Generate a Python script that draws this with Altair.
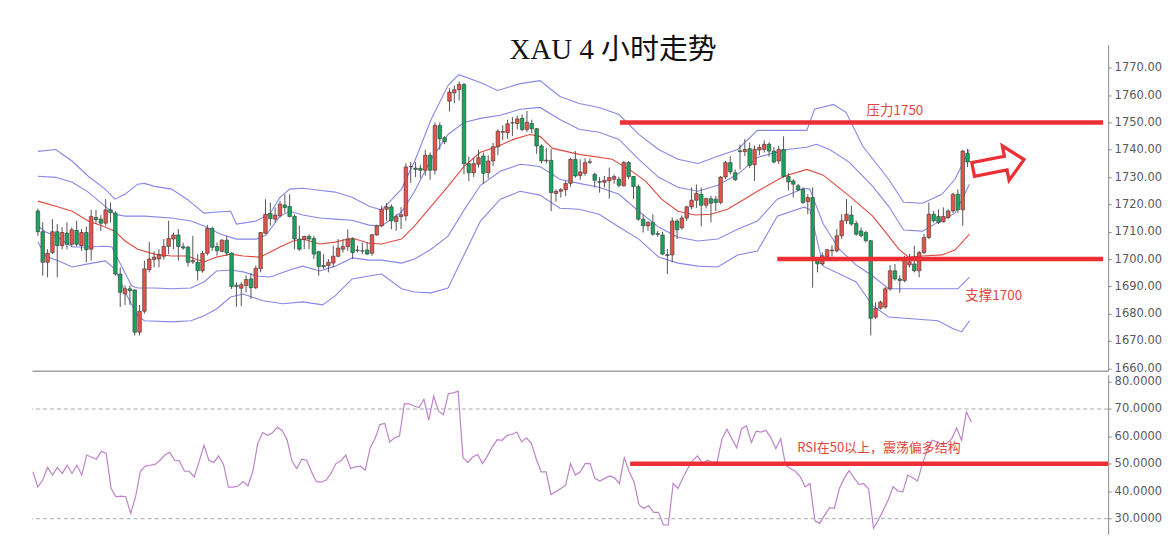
import altair as alt
import pandas as pd
import numpy as np

TITLE = "XAU 4 小时走势"

OPEN = [1717.6, 1710.0, 1698.8, 1702.4, 1710.0, 1704.9, 1709.5, 1705.4, 1710.5, 1704.9,
        1709.7, 1703.6, 1715.2, 1714.6, 1713.1, 1718.0, 1716.8, 1694.5, 1687.2, 1689.1,
        1688.7, 1673.2, 1680.9, 1696.1, 1699.8, 1700.0, 1701.0, 1704.6, 1707.3, 1708.8,
        1704.5, 1704.3, 1699.0, 1698.8, 1695.7, 1702.1, 1711.2, 1704.6, 1702.8, 1706.9,
        1702.2, 1690.4, 1689.3, 1690.3, 1692.7, 1689.5, 1696.4, 1709.4, 1716.7, 1714.6,
        1715.8, 1719.8, 1719.2, 1715.6, 1707.3, 1707.1, 1708.3, 1707.5, 1702.7, 1697.6,
        1697.6, 1698.5, 1701.0, 1703.6, 1704.6, 1707.3, 1703.3, 1703.0, 1703.3, 1702.1,
        1708.8, 1712.2, 1718.2, 1719.1, 1713.7, 1715.5, 1715.8, 1733.8, 1733.3, 1733.2,
        1732.5, 1738.0, 1732.5, 1748.9, 1744.4, 1757.8, 1760.8, 1762.0, 1763.9, 1734.9,
        1731.6, 1734.7, 1737.7, 1731.6, 1735.9, 1741.1, 1746.4, 1746.2, 1749.8, 1749.6,
        1751.5, 1747.4, 1749.6, 1747.7, 1741.4, 1735.9, 1736.1, 1724.0, 1724.8, 1725.4,
        1727.7, 1736.5, 1730.6, 1731.4, 1735.4, 1731.0, 1728.4, 1728.1, 1728.6, 1729.2,
        1729.2, 1726.8, 1735.3, 1730.2, 1726.5, 1714.6, 1712.2, 1713.4, 1709.3, 1708.8,
        1701.6, 1701.5, 1713.9, 1711.4, 1715.0, 1719.1, 1721.5, 1723.7, 1719.7, 1722.1,
        1721.9, 1720.7, 1730.0, 1735.3, 1731.6, 1739.6, 1739.3, 1740.4, 1734.5, 1739.9,
        1740.1, 1742.0, 1739.5, 1735.9, 1740.1, 1730.2, 1728.6, 1726.8, 1725.5, 1721.0,
        1722.5, 1699.4, 1698.2, 1700.9, 1703.0, 1703.0, 1708.5, 1714.0, 1716.1, 1713.0,
        1710.3, 1709.7, 1706.7, 1678.7, 1682.0, 1682.4, 1689.1, 1695.7, 1692.7, 1692.1,
        1697.8, 1698.2, 1695.7, 1702.4, 1707.9, 1716.4, 1715.6, 1713.6, 1715.2, 1717.6,
        1723.7, 1718.0, 1738.7]

HIGH = [1718.5, 1713.5, 1703.6, 1714.6, 1712.8, 1711.6, 1713.4, 1711.6, 1714.0, 1711.0,
        1711.9, 1718.0, 1718.0, 1716.1, 1721.9, 1720.7, 1717.5, 1696.9, 1690.3, 1690.3,
        1688.9, 1683.2, 1699.4, 1706.3, 1702.8, 1703.6, 1707.3, 1714.0, 1709.7, 1711.0,
        1706.0, 1704.9, 1708.5, 1701.8, 1703.0, 1712.5, 1711.8, 1706.1, 1707.3, 1708.5,
        1702.4, 1691.5, 1691.5, 1694.0, 1694.9, 1697.6, 1709.9, 1721.9, 1720.7, 1718.9,
        1721.3, 1723.7, 1723.7, 1716.4, 1712.2, 1708.5, 1709.1, 1708.5, 1703.0, 1701.8,
        1700.0, 1704.9, 1707.3, 1707.3, 1710.9, 1707.9, 1704.9, 1706.1, 1706.1, 1709.1,
        1712.6, 1719.5, 1720.5, 1720.0, 1716.4, 1719.0, 1735.0, 1735.5, 1735.5, 1734.5,
        1740.0, 1739.0, 1750.0, 1750.0, 1745.0, 1762.5, 1763.5, 1765.0, 1764.5, 1737.5,
        1737.0, 1740.0, 1739.0, 1738.0, 1742.5, 1747.5, 1749.0, 1751.0, 1752.0, 1752.5,
        1752.9, 1754.2, 1751.0, 1748.0, 1742.0, 1740.6, 1740.3, 1725.5, 1726.0, 1728.5,
        1737.0, 1739.5, 1736.5, 1736.9, 1736.8, 1731.6, 1730.0, 1730.4, 1733.5, 1731.0,
        1730.2, 1735.9, 1735.9, 1730.4, 1727.3, 1716.4, 1714.0, 1716.4, 1710.3, 1710.0,
        1703.7, 1715.2, 1714.6, 1716.0, 1719.5, 1726.2, 1727.3, 1726.2, 1722.5, 1723.1,
        1723.1, 1730.4, 1735.9, 1737.7, 1732.8, 1741.9, 1743.9, 1742.7, 1741.5, 1742.0,
        1743.5, 1742.8, 1741.0, 1741.5, 1744.9, 1731.5, 1729.2, 1727.5, 1726.2, 1723.7,
        1726.2, 1700.0, 1702.4, 1703.6, 1705.0, 1711.0, 1716.4, 1721.9, 1719.5, 1714.0,
        1711.6, 1710.3, 1706.9, 1684.2, 1684.8, 1689.7, 1697.8, 1698.2, 1694.0, 1701.2,
        1701.8, 1704.9, 1703.0, 1709.1, 1720.7, 1717.6, 1718.2, 1718.9, 1718.2, 1724.3,
        1725.5, 1740.0, 1740.3]

LOW = [1708.5, 1693.9, 1693.3, 1701.8, 1693.3, 1703.6, 1703.6, 1704.6, 1704.6, 1703.0,
       1698.8, 1699.4, 1712.8, 1710.3, 1712.2, 1713.4, 1693.9, 1682.4, 1683.2, 1683.2,
       1672.0, 1672.0, 1680.0, 1695.1, 1697.0, 1697.0, 1699.8, 1701.8, 1703.6, 1699.4,
       1703.4, 1697.2, 1698.2, 1692.1, 1695.0, 1701.3, 1703.0, 1701.2, 1702.4, 1701.2,
       1689.0, 1682.5, 1682.7, 1687.8, 1685.4, 1689.0, 1695.1, 1709.1, 1712.2, 1713.4,
       1715.2, 1717.0, 1715.2, 1703.6, 1703.0, 1703.6, 1703.6, 1700.0, 1693.9, 1696.4,
       1695.1, 1697.0, 1700.6, 1702.4, 1703.0, 1700.0, 1702.4, 1701.8, 1701.5, 1701.2,
       1708.5, 1711.6, 1714.0, 1710.9, 1710.3, 1711.0, 1714.0, 1727.9, 1730.0, 1729.5,
       1730.5, 1729.0, 1731.0, 1740.0, 1742.0, 1754.0, 1757.0, 1758.0, 1731.0, 1728.5,
       1730.0, 1733.5, 1727.5, 1729.5, 1734.0, 1738.0, 1743.5, 1744.0, 1745.0, 1747.5,
       1746.8, 1746.5, 1746.0, 1738.5, 1735.0, 1735.0, 1717.5, 1721.0, 1722.5, 1723.0,
       1726.5, 1729.8, 1729.0, 1730.5, 1734.7, 1726.2, 1724.3, 1726.2, 1722.1, 1727.5,
       1726.2, 1726.5, 1729.2, 1721.9, 1714.0, 1709.7, 1710.3, 1708.5, 1708.1, 1701.5,
       1694.5, 1698.8, 1707.3, 1710.8, 1714.0, 1718.2, 1718.7, 1712.0, 1718.5, 1713.4,
       1717.6, 1720.0, 1729.2, 1730.9, 1728.6, 1732.8, 1737.7, 1733.3, 1728.6, 1738.0,
       1739.0, 1737.5, 1735.0, 1734.8, 1729.8, 1725.1, 1722.5, 1724.9, 1720.1, 1716.4,
       1689.5, 1695.1, 1697.6, 1699.4, 1701.0, 1702.4, 1707.3, 1712.8, 1712.2, 1708.5,
       1707.9, 1706.1, 1672.0, 1678.1, 1681.5, 1681.8, 1688.4, 1692.1, 1687.6, 1691.5,
       1696.9, 1695.1, 1693.3, 1701.8, 1707.3, 1713.4, 1712.8, 1713.4, 1714.6, 1716.9,
       1716.9, 1712.2, 1733.7]

CLOSE = [1710.0, 1698.8, 1702.1, 1710.0, 1704.9, 1709.7, 1705.4, 1710.7, 1705.4, 1709.7,
         1703.4, 1715.6, 1714.4, 1713.1, 1718.0, 1717.0, 1694.5, 1687.8, 1689.1, 1688.4,
         1673.2, 1680.9, 1696.4, 1700.0, 1700.7, 1701.5, 1704.6, 1707.5, 1708.8, 1704.6,
         1704.0, 1698.8, 1699.5, 1695.7, 1702.1, 1711.2, 1704.3, 1703.0, 1706.9, 1702.2,
         1689.9, 1689.9, 1690.6, 1692.5, 1689.5, 1696.6, 1709.7, 1716.4, 1714.8, 1716.1,
         1720.1, 1718.9, 1715.6, 1707.3, 1703.6, 1708.3, 1707.3, 1701.8, 1697.3, 1697.2,
         1698.8, 1701.0, 1704.0, 1704.6, 1707.3, 1702.4, 1703.1, 1702.9, 1701.8, 1708.9,
         1712.2, 1718.2, 1719.1, 1714.0, 1715.5, 1716.2, 1733.7, 1733.9, 1732.8, 1732.5,
         1738.0, 1732.5, 1748.9, 1744.0, 1742.9, 1761.1, 1762.0, 1763.9, 1734.9, 1731.6,
         1734.9, 1737.1, 1731.4, 1735.9, 1741.1, 1746.8, 1746.7, 1749.5, 1749.9, 1751.3,
         1747.4, 1750.1, 1747.7, 1741.4, 1735.9, 1736.2, 1724.3, 1724.8, 1725.4, 1727.7,
         1736.5, 1730.4, 1731.9, 1735.3, 1735.6, 1728.8, 1728.1, 1728.8, 1729.8, 1730.2,
         1727.0, 1735.3, 1730.2, 1726.5, 1714.6, 1712.2, 1713.4, 1709.1, 1709.0, 1701.8,
         1701.3, 1713.9, 1710.7, 1715.0, 1719.1, 1721.5, 1724.1, 1719.7, 1722.1, 1720.4,
         1720.7, 1730.0, 1735.3, 1731.9, 1729.0, 1739.3, 1740.1, 1734.3, 1740.2, 1740.8,
         1742.0, 1739.5, 1735.5, 1740.1, 1730.2, 1728.2, 1727.4, 1725.3, 1720.7, 1722.5,
         1700.9, 1698.2, 1701.2, 1703.4, 1703.3, 1708.5, 1714.0, 1716.4, 1712.8, 1709.1,
         1708.5, 1706.7, 1678.3, 1682.0, 1684.2, 1689.1, 1695.7, 1692.7, 1692.1, 1700.6,
         1699.0, 1695.7, 1702.4, 1707.9, 1716.4, 1714.0, 1713.4, 1715.6, 1717.6, 1723.7,
         1718.0, 1739.5, 1735.5]

RSI = [47.1, 41.6, 44.1, 48.7, 45.9, 48.7, 46.5, 49.5, 46.5, 49.5,
       45.9, 53.2, 52.4, 51.7, 54.6, 53.8, 41.0, 38.0, 38.2, 38.0,
       31.9, 38.0, 47.3, 49.2, 49.5, 49.8, 51.3, 53.2, 54.2, 51.3,
       51.0, 47.3, 47.3, 45.2, 50.7, 56.8, 51.3, 50.5, 52.9, 49.8,
       41.5, 41.5, 41.9, 43.5, 41.9, 47.3, 57.4, 61.4, 60.4, 61.3,
       63.3, 62.2, 58.8, 51.0, 48.3, 51.7, 51.3, 47.1, 43.5, 43.3,
       44.1, 46.5, 50.1, 51.0, 53.2, 48.3, 48.9, 49.2, 47.7, 55.8,
       59.2, 64.3, 64.7, 58.0, 59.5, 60.1, 71.9, 71.9, 71.1, 70.5,
       73.5, 65.9, 74.7, 69.2, 67.9, 75.6, 75.9, 76.5, 52.2, 50.5,
       52.5, 53.4, 50.1, 52.9, 56.2, 58.8, 58.6, 60.4, 60.7, 61.6,
       58.0, 59.5, 57.4, 51.7, 47.1, 47.1, 38.8, 39.8, 41.0, 42.2,
       50.1, 45.9, 47.1, 50.1, 50.1, 44.7, 43.7, 44.7, 45.6, 44.9,
       42.8, 52.2, 47.1, 43.5, 35.0, 33.8, 34.7, 32.3, 32.3, 27.7,
       27.7, 42.8, 41.0, 44.9, 48.3, 51.3, 52.9, 50.1, 51.3, 50.5,
       50.7, 59.2, 62.6, 59.2, 55.8, 62.8, 63.8, 57.8, 61.9, 61.6,
       62.2, 59.5, 55.6, 59.2, 49.5, 48.3, 47.3, 45.3, 41.6, 42.8,
       29.2, 28.3, 31.3, 34.0, 33.8, 41.0, 44.7, 47.5, 44.9, 42.5,
       42.8, 40.8, 26.5, 29.5, 33.2, 36.8, 41.6, 40.1, 39.8, 45.9,
       44.9, 43.7, 50.1, 55.0, 58.6, 58.0, 57.0, 57.5, 59.2, 63.1,
       58.6, 68.9, 65.3]

# Bollinger-style bands (bar index, price)
UO_I = [0, 3.7, 7.1, 10.4, 13.9, 15.9, 18.0, 20.6, 22.0, 24.1, 27.6, 30.8, 34.3, 36.9, 39.8, 41.0,
        45.1, 48.0, 50.0, 52.0, 54.7, 58.2, 61.4, 64.9, 68.4, 71.0, 75.1, 77.8, 81.2, 84.7, 86.9,
        91.4, 94.9, 99.6, 103.7, 107.8, 111.8, 115.9, 120.0, 124.1, 128.2, 132.2, 136.3, 140.4,
        144.5, 148.6, 158.8, 160.4, 164.3, 166.9, 170.4, 175.7, 178.8, 182.7, 186.7, 189.4, 192.4]
UO_P = [1739.4, 1740.1, 1735.8, 1730.3, 1725.6, 1721.9, 1723.7, 1727.4, 1727.7, 1726.6, 1725.6,
        1721.9, 1716.8, 1717.2, 1717.5, 1712.8, 1713.9, 1716.8, 1722.6, 1725.6, 1725.9, 1725.2,
        1724.5, 1722.6, 1719.3, 1717.9, 1725.6, 1735.8, 1751.1, 1763.5, 1767.5, 1764.6, 1761.7,
        1764.2, 1765.3, 1759.5, 1756.9, 1755.5, 1752.9, 1745.6, 1740.1, 1736.5, 1735.0, 1737.6,
        1740.1, 1747.1, 1747.1, 1754.8, 1756.6, 1753.7, 1741.2, 1729.2, 1720.8, 1720.4, 1723.7,
        1729.2, 1740.1]

UI_I = [0, 3.7, 7.1, 10.4, 13.9, 15.9, 18.0, 22.0, 27.6, 31.6, 34.3, 37.8, 41.0, 45.1, 47.1, 50.0,
        52.0, 54.7, 58.2, 61.4, 64.9, 68.4, 71.0, 75.1, 77.8, 81.2, 84.7, 88.0, 91.4, 95.5, 99.6,
        103.7, 107.8, 111.8, 115.9, 120.0, 124.1, 128.2, 132.2, 136.3, 140.4, 144.5, 148.6, 154.7,
        158.8, 160.8, 163.5, 167.6, 172.4, 175.7, 178.8, 182.7, 185.9, 189.4, 192.4]
UI_P = [1730.3, 1729.9, 1728.1, 1724.5, 1719.3, 1716.4, 1715.7, 1715.7, 1715.0, 1713.9, 1712.1,
        1709.1, 1707.3, 1707.3, 1708.8, 1715.7, 1717.5, 1716.1, 1715.0, 1714.6, 1714.2, 1712.4,
        1712.1, 1717.2, 1724.8, 1736.5, 1745.6, 1750.0, 1751.5, 1752.6, 1754.8, 1755.5, 1751.1,
        1747.5, 1746.4, 1743.8, 1736.5, 1729.9, 1726.3, 1724.8, 1727.0, 1731.0, 1737.2, 1740.1,
        1740.9, 1742.0, 1740.1, 1735.4, 1726.6, 1719.3, 1710.6, 1710.2, 1713.5, 1716.8, 1727.4]

MID_I = [0, 3.7, 7.1, 10.4, 13.9, 15.9, 18.0, 20.6, 24.1, 27.6, 30.8, 34.3, 36.9, 39.8, 42.4, 45.9,
         48.0, 50.0, 52.7, 54.7, 58.2, 61.4, 64.9, 68.4, 71.0, 75.1, 77.8, 81.2, 84.7, 88.0, 91.4,
         94.9, 98.2, 101.6, 103.7, 106.3, 111.8, 118.6, 122.7, 125.5, 128.8, 132.2, 135.7, 139.0,
         142.4, 145.9, 148.6, 154.1, 158.8, 162.2, 167.6, 172.4, 175.7, 177.8, 179.8, 182.7,
         186.7, 189.4, 192.4]
MID_P = [1721.2, 1719.3, 1717.5, 1713.9, 1711.7, 1710.2, 1706.6, 1703.6, 1701.8, 1701.1, 1701.1,
         1698.9, 1700.7, 1701.8, 1701.1, 1700.7, 1702.6, 1704.4, 1706.6, 1707.3, 1705.5, 1706.2,
         1707.7, 1705.8, 1705.5, 1707.3, 1712.1, 1719.3, 1726.6, 1733.9, 1739.1, 1741.2, 1743.8,
         1745.6, 1744.9, 1740.5, 1738.3, 1736.5, 1732.1, 1728.5, 1721.9, 1717.5, 1716.1, 1716.4,
         1718.2, 1721.9, 1724.8, 1730.3, 1732.8, 1730.7, 1723.0, 1715.7, 1708.4, 1703.6, 1700.7,
         1701.1, 1701.5, 1703.3, 1709.1]

LI_I = [0, 1.6, 3.7, 7.1, 10.4, 13.9, 15.3, 16.5, 19.4, 20.6, 24.1, 27.6, 31.6, 34.3, 36.9, 39.8,
        42.4, 45.1, 48.0, 52.0, 54.7, 58.2, 61.4, 64.9, 68.4, 71.0, 75.1, 77.8, 81.2, 84.7, 88.0,
        91.4, 95.5, 99.6, 103.7, 107.8, 111.8, 115.9, 120.0, 124.1, 128.2, 132.2, 136.3, 140.4,
        144.5, 148.6, 152.7, 158.2, 159.4, 162.2, 165.5, 169.0, 172.4, 175.7, 186.7, 190.0, 192.4]
LI_P = [1712.1, 1709.9, 1708.4, 1704.4, 1704.4, 1704.7, 1704.4, 1700.0, 1690.1, 1689.4, 1689.4,
        1689.1, 1689.4, 1691.6, 1695.6, 1696.0, 1695.3, 1693.8, 1693.4, 1696.0, 1697.4, 1695.6,
        1697.4, 1700.4, 1699.6, 1699.6, 1698.5, 1700.0, 1703.6, 1708.4, 1717.9, 1727.0, 1732.1,
        1734.7, 1733.9, 1729.2, 1727.7, 1726.3, 1723.7, 1717.5, 1711.7, 1708.0, 1706.6, 1707.3,
        1710.9, 1713.9, 1721.9, 1725.9, 1725.6, 1712.8, 1703.6, 1697.8, 1693.8, 1689.1, 1689.1,
        1689.1, 1693.4]

LO_I = [0, 1.6, 4.3, 7.1, 11.2, 13.9, 15.9, 18.0, 20.6, 22.0, 27.6, 31.6, 34.3, 36.9, 39.8, 42.4,
        46.5, 50.6, 54.7, 58.8, 61.4, 64.9, 68.4, 71.0, 75.1, 77.8, 81.2, 84.7, 88.0, 91.4, 95.5,
        99.6, 103.7, 107.8, 111.8, 115.9, 120.0, 124.1, 128.2, 132.2, 136.3, 140.4, 144.5, 148.6,
        152.7, 158.2, 159.4, 162.2, 169.0, 172.4, 175.7, 185.9, 189.0, 190.8, 192.4]
LO_P = [1706.2, 1701.1, 1699.3, 1697.1, 1698.5, 1699.3, 1696.4, 1687.9, 1679.2, 1677.4, 1677.0,
        1677.4, 1679.2, 1681.7, 1686.1, 1687.2, 1684.7, 1683.6, 1684.3, 1683.2, 1686.5, 1692.7,
        1693.8, 1694.5, 1689.1, 1687.9, 1687.6, 1689.4, 1701.5, 1713.9, 1721.9, 1724.8, 1723.4,
        1718.6, 1718.2, 1716.4, 1711.7, 1707.3, 1700.7, 1698.5, 1697.4, 1697.1, 1701.5, 1702.9,
        1715.7, 1719.0, 1718.2, 1697.4, 1691.6, 1682.9, 1678.8, 1677.4, 1674.5, 1673.4, 1677.4]

PRICE_TICKS = [1660, 1670, 1680, 1690, 1700, 1710, 1720, 1730, 1740, 1750, 1760, 1770]
RSI_TICKS = [30, 40, 50, 60, 70, 80]
RSI_GUIDES = [30, 70]

RESISTANCE = 1750
RES_FROM = 120.2
SUPPORT = 1700
SUP_FROM = 152.7
RSI_MID = 50
RSI_MID_FROM = 122.2

TITLE_AT = (118.8, 1776.6)
RES_LABEL = "压力1750"
RES_LABEL_AT = (177.0, 1754.2)
SUP_LABEL = "支撑1700"
SUP_LABEL_AT = (197.4, 1686.6)
RSI_NOTE = "RSI在50以上，震荡偏多结构"
RSI_NOTE_AT = (173.1, 55.8)
ARROW_AT = (198.4, 1734.6)

X_DOMAIN = [-0.2, 220]
PRICE_DOMAIN = [1659.1, 1778.5]
RSI_DOMAIN = [24.3, 82.5]

# ---------------- styling ----------------
W = 1079
H_MAIN = 327
H_RSI = 160
UP_COLOR = "#e5534b"
DOWN_COLOR = "#17a55c"
BAND_BLUE = "#8787e8"
BAND_RED = "#e2493e"
LEVEL_RED = "#ec2f35"
NOTE_RED = "#e2463f"
RSI_COLOR = "#bd84c9"
AXIS_GREY = "#8c8c8c"
LABEL_GREY = "#5a5a5a"
CJK = "Noto Sans CJK SC"

n = len(OPEN)
candles = pd.DataFrame({"i": list(range(n)), "open": OPEN, "high": HIGH, "low": LOW, "close": CLOSE})
candles["high"] = np.maximum(candles["high"], np.maximum(candles["open"], candles["close"]))
candles["low"] = np.minimum(candles["low"], np.minimum(candles["open"], candles["close"]))
candles["dir"] = np.where(candles["close"] >= candles["open"], "up", "down")

bands = pd.concat([
    pd.DataFrame({"i": UO_I, "p": UO_P, "band": "UO"}),
    pd.DataFrame({"i": UI_I, "p": UI_P, "band": "UI"}),
    pd.DataFrame({"i": LI_I, "p": LI_P, "band": "LI"}),
    pd.DataFrame({"i": LO_I, "p": LO_P, "band": "LO"}),
], ignore_index=True)
mid = pd.DataFrame({"i": MID_I, "p": MID_P})

rsi_df = pd.DataFrame({"i": list(range(len(RSI))), "rsi": RSI})

x_scale = alt.Scale(domain=X_DOMAIN, nice=False, zero=False)
p_scale = alt.Scale(domain=PRICE_DOMAIN, nice=False, zero=False)
r_scale = alt.Scale(domain=RSI_DOMAIN, nice=False, zero=False)

x_axis_main = alt.Axis(labels=False, ticks=False, grid=False, title=None,
                       domainColor="#a0a0a0", domainWidth=1.5)
p_axis = alt.Axis(orient="right", values=PRICE_TICKS, format=".2f", grid=False, title=None,
                  tickSize=3, labelPadding=3, domainColor=AXIS_GREY, tickColor=AXIS_GREY,
                  labelColor=LABEL_GREY, labelFontSize=11.5, labelFont="DejaVu Sans")
r_axis = alt.Axis(orient="right", values=RSI_TICKS, format=".4f", grid=False, title=None,
                  tickSize=3, labelPadding=3, domainColor=AXIS_GREY, tickColor=AXIS_GREY,
                  labelColor=LABEL_GREY, labelFontSize=11.5, labelFont="DejaVu Sans")


def XM(f):
    return alt.X(f, scale=x_scale, axis=x_axis_main)


def YM(f):
    return alt.Y(f, scale=p_scale, axis=p_axis)


def XR(f):
    return alt.X(f, scale=x_scale, axis=None)


def YR(f):
    return alt.Y(f, scale=r_scale, axis=r_axis)


base_c = alt.Chart(candles)
wicks = base_c.mark_rule(color="#555555", strokeWidth=1, clip=True).encode(
    x=XM("i:Q"), y=YM("low:Q"), y2="high:Q")
up_bodies = base_c.transform_filter(alt.datum.dir == "up").mark_bar(
    size=3.6, color=UP_COLOR, stroke="#3a3a3a", strokeWidth=0.6, clip=True).encode(
    x=XM("i:Q"), y=YM("open:Q"), y2="close:Q")
down_bodies = base_c.transform_filter(alt.datum.dir == "down").mark_bar(
    size=3.6, color=DOWN_COLOR, stroke="#3a3a3a", strokeWidth=0.6, clip=True).encode(
    x=XM("i:Q"), y=YM("open:Q"), y2="close:Q")

band_lines = alt.Chart(bands).mark_line(strokeWidth=1.1, color=BAND_BLUE, clip=True).encode(
    x=XM("i:Q"), y=YM("p:Q"), detail="band:N")
mid_line = alt.Chart(mid).mark_line(strokeWidth=1.1, color=BAND_RED, clip=True).encode(
    x=XM("i:Q"), y=YM("p:Q"))

levels_df = pd.DataFrame({"level": [RESISTANCE, SUPPORT], "start": [RES_FROM, SUP_FROM],
                          "end": [X_DOMAIN[1], X_DOMAIN[1]]})
levels = alt.Chart(levels_df).mark_rule(color=LEVEL_RED, strokeWidth=4.5).encode(
    x=XM("start:Q"), x2="end:Q", y=YM("level:Q"))

labels_df = pd.DataFrame({"i": [RES_LABEL_AT[0], SUP_LABEL_AT[0]],
                          "p": [RES_LABEL_AT[1], SUP_LABEL_AT[1]],
                          "t": [RES_LABEL, SUP_LABEL]})
labels = alt.Chart(labels_df).mark_text(font=CJK, fontSize=13.5, color=NOTE_RED,
                                         align="center", baseline="middle").encode(
    x=XM("i:Q"), y=YM("p:Q"), text="t:N")

title_df = pd.DataFrame({"i": [TITLE_AT[0]], "p": [TITLE_AT[1]], "t": [TITLE]})
title = alt.Chart(title_df).mark_text(font="Liberation Serif, " + CJK, fontSize=29,
                                       color="#111111", align="center", baseline="middle").encode(
    x=XM("i:Q"), y=YM("p:Q"), text="t:N")

arrow_df = pd.DataFrame({"i": [ARROW_AT[0]], "p": [ARROW_AT[1]]})
arrow = alt.Chart(arrow_df).mark_point(
    shape="M -1 -0.27 L 0.28 -0.27 L 0.28 -0.68 L 1 0 L 0.28 0.68 L 0.28 0.27 L -1 0.27 Z",
    size=2700, filled=False, stroke=LEVEL_RED, strokeWidth=3.2, opacity=1, angle=349).encode(
    x=XM("i:Q"), y=YM("p:Q"))

main = alt.layer(band_lines, mid_line, wicks, up_bodies, down_bodies, levels, labels,
                 arrow, title).properties(width=W, height=H_MAIN)

rsi_line = alt.Chart(rsi_df).mark_line(color=RSI_COLOR, strokeWidth=1.2, clip=True).encode(
    x=XR("i:Q"), y=YR("rsi:Q"))
guides = alt.Chart(pd.DataFrame({"v": RSI_GUIDES})).mark_rule(
    color="#a8a8a8", strokeWidth=1, strokeDash=[4, 3]).encode(y=YR("v:Q"))
mid_df = pd.DataFrame({"v": [RSI_MID], "start": [RSI_MID_FROM], "end": [X_DOMAIN[1]]})
rsi_mid = alt.Chart(mid_df).mark_rule(color=LEVEL_RED, strokeWidth=4.5).encode(
    x=XR("start:Q"), x2="end:Q", y=YR("v:Q"))
note_df = pd.DataFrame({"i": [RSI_NOTE_AT[0]], "v": [RSI_NOTE_AT[1]], "t": [RSI_NOTE]})
note = alt.Chart(note_df).mark_text(font=CJK, fontSize=13, color=NOTE_RED,
                                     align="center", baseline="middle").encode(
    x=XR("i:Q"), y=YR("v:Q"), text="t:N")

rsi = alt.layer(guides, rsi_line, rsi_mid, note).properties(width=W, height=H_RSI)

chart = alt.vconcat(main, rsi, spacing=0).properties(
    padding={"left": 23, "top": 27, "right": 0, "bottom": 0}
).configure_view(strokeWidth=0)

chart.save("out.html", embed_options={"renderer": "svg", "actions": False})
